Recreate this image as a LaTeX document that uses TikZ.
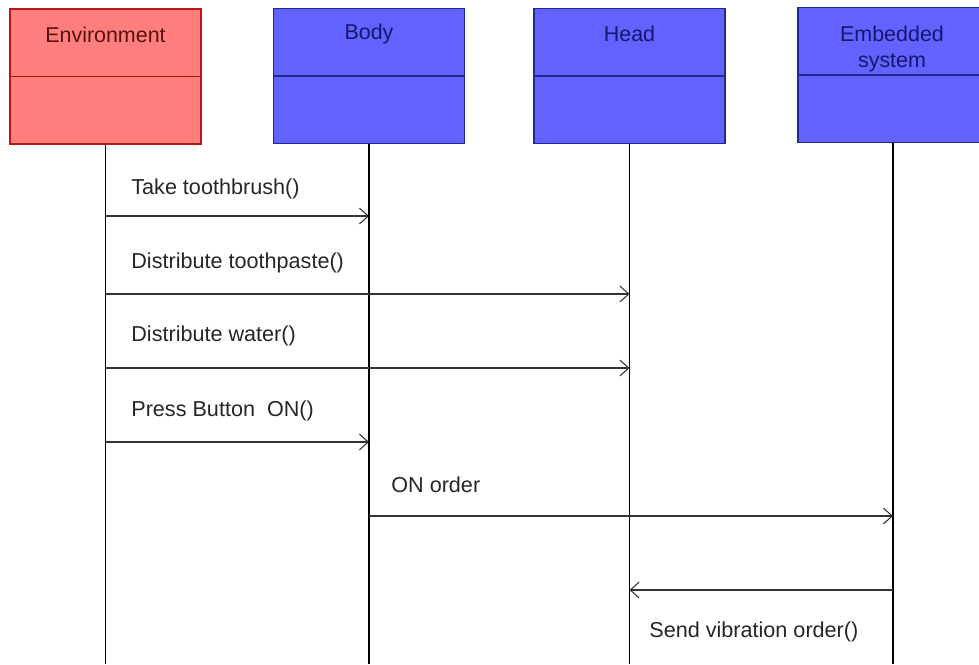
\documentclass[tikz,border=0pt]{standalone}
\usepackage{fontspec}
\setmainfont{Liberation Sans}
\usetikzlibrary{arrows.meta}
\definecolor{envfill}{HTML}{FF7F7F}
\definecolor{envline}{HTML}{B81818}
\definecolor{envtext}{HTML}{5A1010}
\definecolor{sysfill}{HTML}{6262FF}
\definecolor{sysline}{HTML}{22288E}
\definecolor{systext}{HTML}{16166E}
\definecolor{msgline}{HTML}{333333}
\tikzset{
  actor/.style={draw=#1line, fill=#1fill, line width=1.1pt, minimum width=3.82cm,
    minimum height=2.7cm, inner sep=0pt},
  divider/.style={draw=#1line, line width=0.6pt},
  lbl/.style={text=#1text, font=\fontsize{12.2}{14.8}\selectfont, align=center, inner sep=0pt},
  life/.style={draw=black, line width=0.6pt},
  msg/.style={draw=msgline, line width=0.6pt, -{Straight Barb[length=5pt,width=9pt,line width=0.6pt]}},
  msgtxt/.style={anchor=west, text=black!85, font=\fontsize{12.3}{14}\selectfont, inner sep=0pt}
}
\begin{document}
\begin{tikzpicture}[x=0.02cm, y=-0.02cm]
    \useasboundingbox (0,0) rectangle (979,664);
    \node[actor=env] (env) at (105.5,76.5) {};
    \node[actor=sys] (body) at (369,76) {};
    \node[actor=sys] (head) at (629.5,76) {};
    \node[actor=sys] (emb) at (893,75) {};
    \draw[divider=env] (env.west) -- (env.east);
    \draw[divider=sys] (body.west) -- (body.east);
    \draw[divider=sys] (head.west) -- (head.east);
    \draw[divider=sys] (emb.west) -- (emb.east);
    \node[lbl=env] (envlbl) at (105.5,35) {Environment};
    \node[lbl=sys] (bodylbl) at (369,34) {Body};
    \node[lbl=sys] (headlbl) at (629.5,34) {Head};
    \node[lbl=sys] (emblbl) at (892,49) {Embedded\\system};
    \coordinate (bot) at (0,664);
    \draw[life] (env.south) -- (env.south |- bot);
    \draw[life] (body.south) -- (body.south |- bot);
    \draw[life] (head.south) -- (head.south |- bot);
    \draw[life] (emb.south) -- (emb.south |- bot);
    \coordinate (m1) at (0,216);
    \coordinate (m2) at (0,294);
    \coordinate (m3) at (0,368);
    \coordinate (m4) at (0,442);
    \coordinate (m5) at (0,516);
    \coordinate (m6) at (0,590);
    \draw[msg] (env |- m1) -- (body |- m1);
    \draw[msg] (env |- m2) -- (head |- m2);
    \draw[msg] (env |- m3) -- (head |- m3);
    \draw[msg] (env |- m4) -- (body |- m4);
    \draw[msg] (body |- m5) -- (emb |- m5);
    \draw[msg] (emb |- m6) -- (head |- m6);
    \node[msgtxt] (t1) at (131,189) {Take toothbrush()};
    \node[msgtxt] (t2) at (131,263) {Distribute toothpaste()};
    \node[msgtxt] (t3) at (131,336) {Distribute water()};
    \node[msgtxt] (t4) at (131,411) {Press Button\ \ ON()};
    \node[msgtxt] (t5) at (391,485) {ON order};
    \node[msgtxt] (t6) at (649,632) {Send vibration order()};
\end{tikzpicture}
\end{document}
